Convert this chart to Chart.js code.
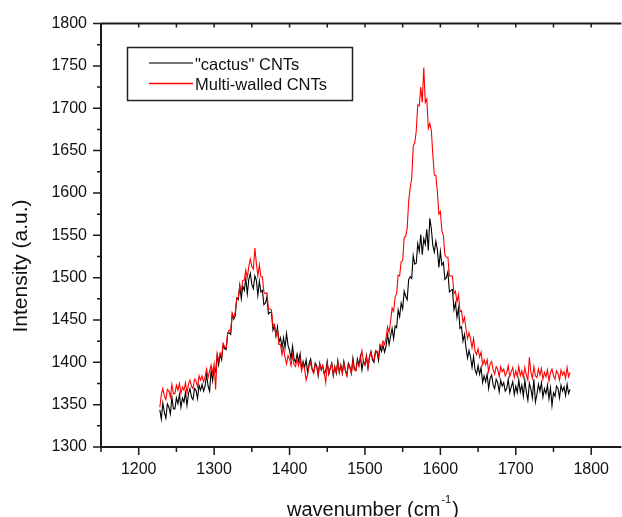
<!DOCTYPE html>
<html>
<head>
<meta charset="utf-8">
<script src="https://cdn.jsdelivr.net/npm/chart.js@4.4.0/dist/chart.umd.min.js"></script>
<style>
html, body { margin: 0; padding: 0; background: #fff; overflow: hidden; }
</style>
</head>
<body>
<canvas id="myChart" width="622" height="517"></canvas>
<script>
// wavenumber (cm-1), one reading every 2
var wavenumber = [
    1228, 1230, 1232, 1234, 1236, 1238, 1240, 1242, 1244, 1246,
    1248, 1250, 1252, 1254, 1256, 1258, 1260, 1262, 1264, 1266,
    1268, 1270, 1272, 1274, 1276, 1278, 1280, 1282, 1284, 1286,
    1288, 1290, 1292, 1294, 1296, 1298, 1300, 1302, 1304, 1306,
    1308, 1310, 1312, 1314, 1316, 1318, 1320, 1322, 1324, 1326,
    1328, 1330, 1332, 1334, 1336, 1338, 1340, 1342, 1344, 1346,
    1348, 1350, 1352, 1354, 1356, 1358, 1360, 1362, 1364, 1366,
    1368, 1370, 1372, 1374, 1376, 1378, 1380, 1382, 1384, 1386,
    1388, 1390, 1392, 1394, 1396, 1398, 1400, 1402, 1404, 1406,
    1408, 1410, 1412, 1414, 1416, 1418, 1420, 1422, 1424, 1426,
    1428, 1430, 1432, 1434, 1436, 1438, 1440, 1442, 1444, 1446,
    1448, 1450, 1452, 1454, 1456, 1458, 1460, 1462, 1464, 1466,
    1468, 1470, 1472, 1474, 1476, 1478, 1480, 1482, 1484, 1486,
    1488, 1490, 1492, 1494, 1496, 1498, 1500, 1502, 1504, 1506,
    1508, 1510, 1512, 1514, 1516, 1518, 1520, 1522, 1524, 1526,
    1528, 1530, 1532, 1534, 1536, 1538, 1540, 1542, 1544, 1546,
    1548, 1550, 1552, 1554, 1556, 1558, 1560, 1562, 1564, 1566,
    1568, 1570, 1572, 1574, 1576, 1578, 1580, 1582, 1584, 1586,
    1588, 1590, 1592, 1594, 1596, 1598, 1600, 1602, 1604, 1606,
    1608, 1610, 1612, 1614, 1616, 1618, 1620, 1622, 1624, 1626,
    1628, 1630, 1632, 1634, 1636, 1638, 1640, 1642, 1644, 1646,
    1648, 1650, 1652, 1654, 1656, 1658, 1660, 1662, 1664, 1666,
    1668, 1670, 1672, 1674, 1676, 1678, 1680, 1682, 1684, 1686,
    1688, 1690, 1692, 1694, 1696, 1698, 1700, 1702, 1704, 1706,
    1708, 1710, 1712, 1714, 1716, 1718, 1720, 1722, 1724, 1726,
    1728, 1730, 1732, 1734, 1736, 1738, 1740, 1742, 1744, 1746,
    1748, 1750, 1752, 1754, 1756, 1758, 1760, 1762, 1764, 1766,
    1768, 1770, 1772
];

var cactus = [
    1344, 1333, 1352, 1341, 1334, 1351, 1347, 1339, 1359, 1345,
    1345, 1358, 1351, 1362, 1347, 1358, 1353, 1364, 1349, 1363,
    1369, 1359, 1356, 1369, 1367, 1357, 1373, 1367, 1374, 1366,
    1372, 1385, 1372, 1366, 1390, 1378, 1393, 1389, 1408, 1397,
    1409, 1403, 1421, 1416, 1415, 1434, 1435, 1433, 1457, 1451,
    1455, 1476, 1474, 1491, 1475, 1490, 1485, 1499, 1481, 1498,
    1505, 1492, 1487, 1502, 1497, 1479, 1496, 1483, 1485, 1468,
    1470, 1477, 1457, 1459, 1459, 1438, 1443, 1431, 1442, 1424,
    1429, 1417, 1429, 1417, 1434, 1420, 1414, 1404, 1419, 1404,
    1400, 1410, 1401, 1410, 1392, 1401, 1394, 1403, 1387, 1399,
    1404, 1392, 1388, 1399, 1396, 1384, 1399, 1391, 1396, 1386,
    1390, 1401, 1386, 1393, 1399, 1384, 1395, 1387, 1402, 1388,
    1397, 1387, 1401, 1391, 1385, 1399, 1395, 1387, 1405, 1392,
    1391, 1404, 1397, 1407, 1391, 1402, 1397, 1408, 1393, 1407,
    1413, 1403, 1400, 1413, 1412, 1402, 1419, 1413, 1420, 1412,
    1419, 1433, 1421, 1431, 1440, 1428, 1443, 1441, 1462, 1454,
    1470, 1463, 1484, 1478, 1474, 1498, 1501, 1499, 1526, 1516,
    1517, 1540, 1531, 1551, 1527, 1546, 1539, 1557, 1532, 1570,
    1558, 1538, 1530, 1543, 1533, 1512, 1531, 1515, 1518, 1498,
    1500, 1507, 1483, 1485, 1486, 1462, 1470, 1453, 1464, 1440,
    1442, 1425, 1433, 1417, 1405, 1414, 1406, 1394, 1407, 1391,
    1386, 1396, 1386, 1394, 1376, 1384, 1377, 1386, 1369, 1381,
    1385, 1373, 1369, 1380, 1376, 1365, 1379, 1372, 1376, 1366,
    1369, 1380, 1364, 1371, 1377, 1362, 1372, 1364, 1379, 1365,
    1373, 1360, 1379, 1365, 1355, 1375, 1369, 1358, 1380, 1353,
    1362, 1374, 1366, 1376, 1359, 1369, 1363, 1373, 1357, 1370,
    1349, 1364, 1360, 1372, 1369, 1358, 1373, 1366, 1371, 1361,
    1374, 1363, 1368
];

var multiWalled = [
    1347, 1362, 1369, 1360, 1356, 1368, 1366, 1359, 1374, 1363,
    1363, 1373, 1367, 1375, 1363, 1371, 1367, 1376, 1364, 1374,
    1379, 1372, 1369, 1380, 1378, 1371, 1384, 1379, 1384, 1377,
    1383, 1392, 1382, 1390, 1397, 1387, 1398, 1368, 1410, 1402,
    1411, 1406, 1422, 1418, 1417, 1435, 1438, 1437, 1458, 1453,
    1459, 1476, 1476, 1490, 1484, 1497, 1497, 1509, 1500, 1513,
    1522, 1513, 1510, 1535, 1517, 1502, 1515, 1501, 1501, 1483,
    1481, 1482, 1463, 1463, 1462, 1443, 1445, 1432, 1438, 1421,
    1421, 1409, 1417, 1406, 1398, 1408, 1404, 1396, 1409, 1397,
    1395, 1404, 1396, 1404, 1390, 1398, 1392, 1379, 1386, 1396,
    1399, 1391, 1387, 1397, 1394, 1386, 1398, 1392, 1396, 1388,
    1376, 1399, 1387, 1393, 1398, 1386, 1394, 1388, 1400, 1389,
    1395, 1387, 1399, 1390, 1384, 1397, 1394, 1387, 1401, 1391,
    1390, 1401, 1395, 1404, 1414, 1401, 1397, 1406, 1394, 1406,
    1411, 1405, 1402, 1414, 1413, 1407, 1421, 1418, 1425, 1421,
    1429, 1442, 1435, 1449, 1464, 1460, 1477, 1481, 1503, 1502,
    1519, 1520, 1547, 1549, 1558, 1591, 1606, 1617, 1655, 1659,
    1673, 1704, 1703, 1725, 1707, 1748, 1707, 1711, 1676, 1682,
    1674, 1645, 1621, 1621, 1602, 1575, 1578, 1555, 1550, 1527,
    1524, 1524, 1502, 1502, 1502, 1481, 1484, 1471, 1480, 1460,
    1461, 1447, 1453, 1439, 1428, 1435, 1428, 1417, 1428, 1413,
    1409, 1416, 1406, 1412, 1397, 1403, 1397, 1403, 1389, 1398,
    1401, 1391, 1386, 1395, 1392, 1383, 1395, 1389, 1392, 1384,
    1388, 1396, 1383, 1389, 1394, 1382, 1390, 1383, 1395, 1384,
    1390, 1382, 1394, 1385, 1379, 1406, 1388, 1381, 1395, 1384,
    1382, 1392, 1385, 1393, 1380, 1388, 1383, 1391, 1378, 1388,
    1392, 1384, 1380, 1390, 1387, 1379, 1391, 1385, 1389, 1381,
    1394, 1383, 1388
];

var xTicks = [1200, 1300, 1400, 1500, 1600, 1700, 1800];
var yTicks = [1300, 1350, 1400, 1450, 1500, 1550, 1600, 1650, 1700, 1750, 1800];

function toPoints(values) {
    return wavenumber.map(function (x, i) { return { x: x, y: values[i] }; });
}

var font = 'Liberation Sans, Arial, sans-serif';

// axes frame, tick marks, titles and the boxed legend
var frame = {
    id: 'frame',
    afterDraw: function (chart) {
        var c = chart.ctx, a = chart.chartArea;
        var xs = chart.scales.x, ys = chart.scales.y;
        var v, p;
        c.save();
        c.strokeStyle = '#1a1a1a';
        c.lineWidth = 2;
        c.beginPath();
        c.moveTo(a.left, a.top);
        c.lineTo(a.right, a.top);
        c.moveTo(a.left, a.top);
        c.lineTo(a.left, a.bottom);
        c.lineTo(a.right, a.bottom);
        c.stroke();

        c.lineWidth = 1.5;
        c.beginPath();
        for (v = 1150; v <= 1840; v += 50) {
            p = xs.getPixelForValue(v);
            c.moveTo(p, a.bottom);
            c.lineTo(p, a.bottom + (v % 100 === 0 ? 8 : 5));
            c.moveTo(p, a.top);
            c.lineTo(p, a.top + 4);
        }
        for (v = 1300; v <= 1800; v += 25) {
            p = ys.getPixelForValue(v);
            c.moveTo(a.left, p);
            c.lineTo(a.left - (v % 50 === 0 ? 8 : 4), p);
        }
        c.stroke();

        // axis titles
        c.fillStyle = '#111';
        c.save();
        c.translate(21, 266);
        c.rotate(-Math.PI / 2);
        c.font = '21px ' + font;
        c.textAlign = 'center';
        c.textBaseline = 'middle';
        c.fillText('Intensity (a.u.)', 0, 0);
        c.restore();

        c.textAlign = 'left';
        c.textBaseline = 'alphabetic';
        c.font = '20px ' + font;
        var t1 = 'wavenumber (cm';
        var w1 = c.measureText(t1).width;
        c.fillText(t1, 287, 516);
        c.font = '11px ' + font;
        var w2 = c.measureText('-1').width;
        c.fillText('-1', 287 + w1 + 1, 503);
        c.font = '20px ' + font;
        c.fillText(')', 287 + w1 + w2 + 2, 516);

        // legend
        c.strokeStyle = '#222';
        c.lineWidth = 1.5;
        c.strokeRect(127.5, 47.5, 225, 53);

        c.lineWidth = 2;
        c.strokeStyle = '#777777';
        c.beginPath();
        c.moveTo(149, 63);
        c.lineTo(193, 63);
        c.stroke();

        c.lineWidth = 1.5;
        c.strokeStyle = 'rgb(255, 0, 0)';
        c.beginPath();
        c.moveTo(149, 83.5);
        c.lineTo(193, 83.5);
        c.stroke();

        c.font = '16.5px ' + font;
        c.fillStyle = '#111';
        c.fillText('"cactus" CNTs', 195, 69.5);
        c.fillText('Multi-walled CNTs', 195, 89.5);
        c.restore();
    }
};

var ctx = document.getElementById('myChart').getContext('2d');
var myChart = new Chart(ctx, {
    type: 'line',
    data: {
        datasets: [{
            label: '"cactus" CNTs',
            data: toPoints(cactus),
            borderColor: '#000000',
            borderWidth: 1.1,
            pointRadius: 0,
            tension: 0,
            order: 2
        },
        {
            label: 'Multi-walled CNTs',
            data: toPoints(multiWalled),
            borderColor: '#ff0000',
            borderWidth: 1.1,
            pointRadius: 0,
            tension: 0,
            order: 1
        }]
    },
    options: {
        responsive: false,
        animation: false,
        layout: { padding: { top: 22, left: 0, right: 0, bottom: 0 } },
        plugins: {
            legend: { display: false },
            tooltip: { enabled: false }
        },
        scales: {
            x: {
                type: 'linear',
                min: 1150,
                max: 1840,
                grid: { display: false, drawTicks: false },
                border: { display: false },
                afterFit: function (scale) { scale.height = 70; },
                afterBuildTicks: function (scale) {
                    scale.ticks = xTicks.map(function (v) { return { value: v }; });
                },
                ticks: {
                    padding: 13,
                    color: '#111',
                    maxRotation: 0,
                    font: { family: font, size: 16 },
                    callback: function (v) { return String(v); }
                }
            },
            y: {
                min: 1300,
                max: 1800,
                grid: { display: false, drawTicks: false },
                border: { display: false },
                afterFit: function (scale) { scale.width = 101; },
                afterBuildTicks: function (scale) {
                    scale.ticks = yTicks.map(function (v) { return { value: v }; });
                },
                ticks: {
                    padding: 14,
                    color: '#111',
                    font: { family: font, size: 16 },
                    callback: function (v) { return String(v); }
                }
            }
        }
    },
    plugins: [frame]
});
</script>
</body>
</html>
